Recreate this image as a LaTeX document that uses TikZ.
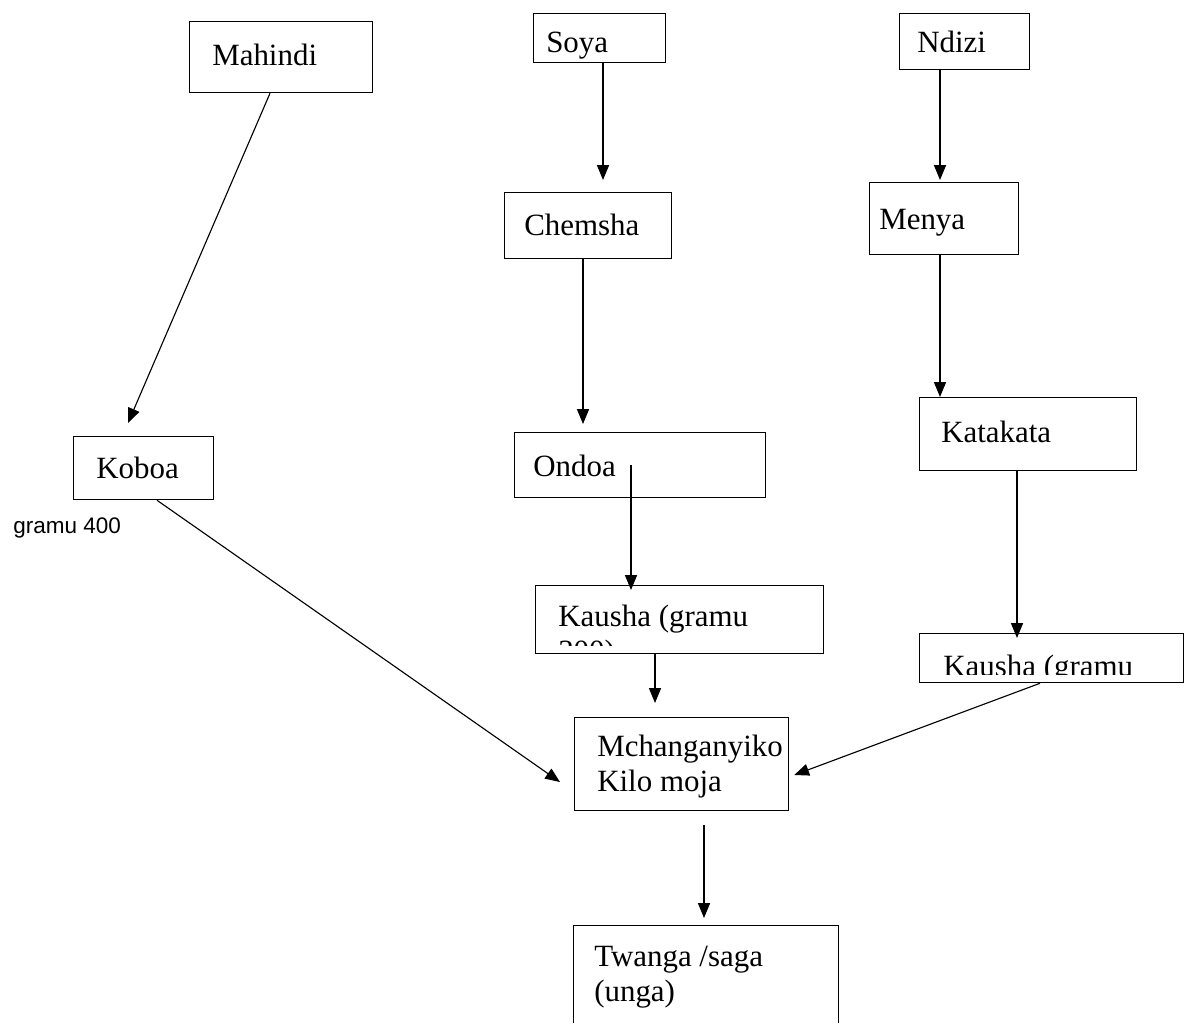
\documentclass[tikz,border=0pt]{standalone}
\usepackage{fontspec}
\setmainfont{Liberation Serif}
\newfontfamily\notefont{Liberation Sans}
\usetikzlibrary{positioning}
\usetikzlibrary{arrows.meta}
\newcommand{\pxu}{0.025cm}
\tikzset{main node/.style={shape=rectangle,
    draw, line width=0.9pt, anchor=north west, inner sep=0pt},
  label text/.style={anchor=north west, align=left, inner sep=0pt,
    minimum size=0pt, font=\fontsize{22}{25}\selectfont},
  box text/.style n args={3}{path picture={
    \node[label text]
      at ([shift={(#1,#2-24.7)}]path picture bounding box.north west) {\strut#3};}},
  cut text/.style n args={3}{path picture={
    \clip (path picture bounding box.north west)
      rectangle ([yshift=8*\pxu]path picture bounding box.south east);
    \node[label text]
      at ([shift={(#1,#2-24.7)}]path picture bounding box.north west) {\strut#3};}},
  flow/.style={line width=0.8pt, -{Triangle[length=10.5pt, width=8.5pt]}}}

\begin{document}
\begin{tikzpicture}[x=0.025cm, y=-0.025cm]
    \useasboundingbox (0,0) rectangle (1184,1026);
    \clip (0,0) rectangle (1184,1022);

    \node[main node, minimum width=183*\pxu, minimum height=71*\pxu, box text={22}{43}{Mahindi}] (1) at (189,21) {};
    \node[main node, minimum width=132*\pxu, minimum height=49*\pxu, box text={12}{38}{Soya}] (2) at (533,13) {};
    \node[main node, minimum width=130*\pxu, minimum height=56*\pxu, box text={17}{38}{Ndizi}] (3) at (899,13) {};

    \node[main node, minimum width=167*\pxu, minimum height=66*\pxu, box text={19}{42}{Chemsha}] (4) at (504,192) {};
    \node[main node, minimum width=149*\pxu, minimum height=72*\pxu, box text={9}{46}{Menya}] (5) at (869,182) {};

    \node[main node, minimum width=140*\pxu, minimum height=63*\pxu, box text={22}{41}{Koboa}] (6) at (73,436) {};
    \node[main node, minimum width=251*\pxu, minimum height=65*\pxu, box text={18}{43}{Ondoa}] (7) at (514,432) {};
    \node[main node, minimum width=217*\pxu, minimum height=73*\pxu, box text={21}{44}{Katakata}] (8) at (919,397) {};
    \node[anchor=base west, inner sep=0pt, font=\notefont\fontsize{16}{19}\selectfont] (13) at (13,533) {gramu 400};

    \node[main node, minimum width=288*\pxu, minimum height=68*\pxu, cut text={22}{40}{Kausha (gramu\\300)}] (9) at (535,585) {};
    \node[main node, minimum width=264*\pxu, minimum height=49*\pxu, cut text={23}{42}{Kausha (gramu}] (10) at (919,633) {};

    \node[main node, minimum width=214*\pxu, minimum height=93*\pxu, box text={22}{38}{Mchanganyiko\\Kilo moja}] (11) at (574,717) {};
    \node[main node, minimum width=265*\pxu, minimum height=130*\pxu, box text={20}{40}{Twanga /saga\\(unga)}] (12) at (573,925) {};

    \path[flow]
    ([shift={(81,0)}]1.south west) edge ([shift={(55,-13)}]6.north west)
    ([shift={(70,0)}]2.south west) edge ([shift={(99,-12)}]4.north west)
    ([shift={(41,0)}]3.south west) edge ([shift={(71,-2)}]5.north west)
    ([shift={(79,0)}]4.south west) edge ([shift={(69,-8)}]7.north west)
    ([shift={(71,0)}]5.south west) edge ([shift={(21,0)}]8.north west)
    ([shift={(117,33)}]7.north west) edge ([shift={(96,5)}]9.north west)
    ([shift={(98,0)}]8.south west) edge ([shift={(98,5)}]10.north west)
    ([shift={(120,0)}]9.south west) edge ([shift={(81,-14)}]11.north west)
    ([shift={(84,0)}]6.south west) edge ([shift={(-14,65)}]11.north west)
    ([shift={(121,0)}]10.south west) edge ([shift={(5,58)}]11.north east)
    ([shift={(130,14)}]11.south west) edge ([shift={(131,-7)}]12.north west)
    ;
\end{tikzpicture}
\end{document}
